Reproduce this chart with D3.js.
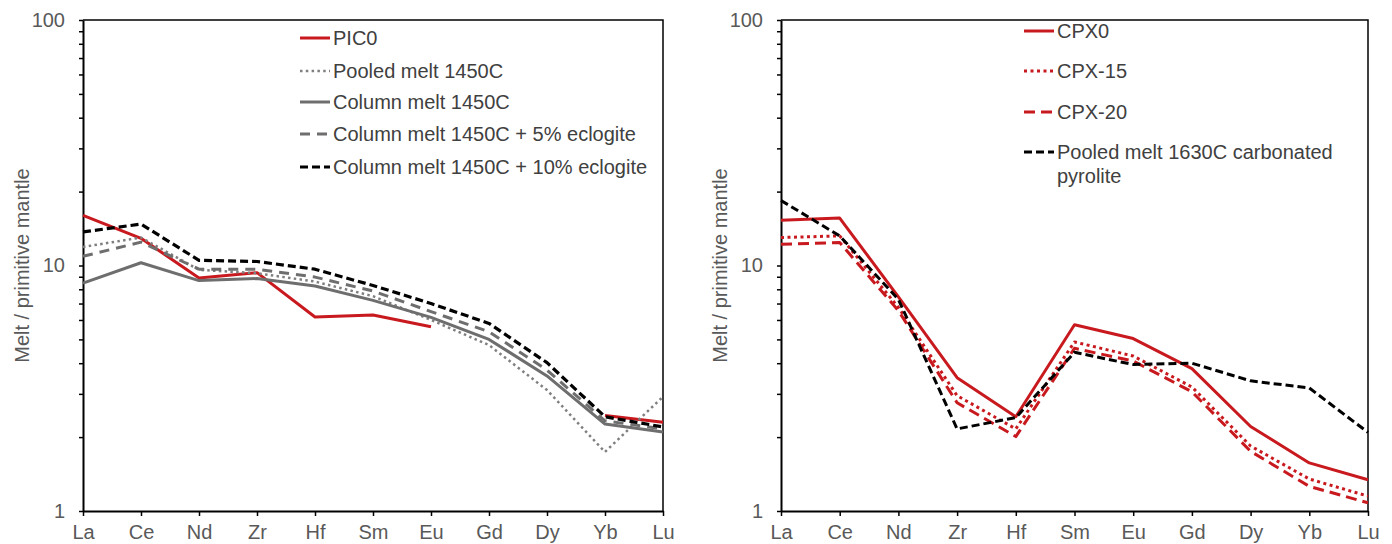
<!DOCTYPE html>
<html>
<head>
<meta charset="utf-8">
<script src="https://cdn.jsdelivr.net/npm/d3@7"></script>
<style>
  html, body { margin: 0; padding: 0; background: #fff; }
  svg { display: block; }
  text { font-family: "Liberation Sans", Arial, sans-serif; }
</style>
</head>
<body>
<svg id="chart" width="1392" height="544"></svg>
<script>
// Trace-element patterns normalised to primitive mantle
const elements = ["La", "Ce", "Nd", "Zr", "Hf", "Sm", "Eu", "Gd", "Dy", "Yb", "Lu"];
const yTickLabels = [1, 10, 100];
const yAxisTitle = "Melt / primitive mantle";

// Left panel series
const pic0        = [16.0, 12.9, 8.9, 9.35, 6.17, 6.29, 5.63, null, null, 2.45, 2.30];
const pooled1450  = [11.9, 13.0, 9.6, 9.3, 8.6, 7.5, 6.0, 4.74, 3.11, 1.74, 2.92];
const column1450  = [8.48, 10.26, 8.68, 8.85, 8.25, 7.21, 6.15, 5.0, 3.55, 2.26, 2.10];
const column5ecl  = [10.9, 12.45, 9.66, 9.66, 8.97, 7.87, 6.49, 5.37, 3.75, 2.33, 2.16];
const column10ecl = [13.7, 14.75, 10.5, 10.38, 9.66, 8.29, 7.0, 5.81, 4.02, 2.42, 2.20];

// Right panel series
const cpx0        = [15.3, 15.6, 7.45, 3.49, 2.42, 5.74, 5.04, 3.80, 2.21, 1.57, 1.34];
const cpx15       = [13.0, 13.2, 6.75, 2.95, 2.16, 4.88, 4.28, 3.20, 1.84, 1.35, 1.15];
const cpx20       = [12.2, 12.4, 6.55, 2.76, 2.01, 4.60, 4.08, 3.06, 1.75, 1.26, 1.08];
const pooled1630  = [18.4, 13.2, 7.28, 2.16, 2.40, 4.43, 3.95, 4.0, 3.39, 3.17, 2.09];

const RED = "#c8191e", GREY = "#6e6e6e", LIGHTGREY = "#7f7f7f", BLACK = "#000";

const leftSeries = [
  { name: "PIC0", values: pic0, color: RED, width: 3, dash: null },
  { name: "Pooled melt 1450C", values: pooled1450, color: LIGHTGREY, width: 2.5, dash: "2.5,3.3" },
  { name: "Column melt 1450C", values: column1450, color: GREY, width: 3, dash: null },
  { name: "Column melt 1450C + 5% eclogite", values: column5ecl, color: GREY, width: 3, dash: "10,7" },
  { name: "Column melt 1450C + 10% eclogite", values: column10ecl, color: BLACK, width: 3.2, dash: "8,4" }
];
const rightSeries = [
  { name: ["CPX0"], values: cpx0, color: RED, width: 3, dash: null },
  { name: ["CPX-15"], values: cpx15, color: RED, width: 3, dash: "3,3.5" },
  { name: ["CPX-20"], values: cpx20, color: RED, width: 3, dash: "11,6" },
  { name: ["Pooled melt 1630C carbonated", "pyrolite"], values: pooled1630, color: BLACK, width: 3, dash: "8,4" }
];

const svg = d3.select("#chart");

function panel(cfg) {
  const g = svg.append("g");
  const x = d3.scalePoint().domain(elements).range([cfg.x0, cfg.x1]);
  const y = d3.scaleLog().domain([1, 100]).range([cfg.y1, cfg.y0]);

  // frame (top and right)
  g.append("path")
    .attr("d", `M${cfg.x0},${cfg.y0}H${cfg.x1}V${cfg.y1}`)
    .attr("fill", "none").attr("stroke", "#000").attr("stroke-width", 1.5);

  // y axis: all decade sub-ticks, labels on decades only
  const minor = [];
  for (let d = 1; d < 100; d *= 10) for (let k = 1; k < 10; k++) minor.push(d * k);
  minor.push(100);
  const yAxis = d3.axisLeft(y).tickValues(minor)
    .tickFormat(v => yTickLabels.includes(v) ? String(v) : "")
    .tickSizeInner(4).tickSizeOuter(0).tickPadding(14);
  const ya = g.append("g").attr("transform", `translate(${cfg.x0},0)`).call(yAxis);
  ya.select(".domain").attr("stroke", "#000").attr("stroke-width", 2);
  ya.selectAll(".tick line").attr("stroke", "#000").attr("stroke-width", 1.5);
  ya.selectAll(".tick text").attr("font-size", 20).attr("fill", "#595959")
    .attr("font-family", "Liberation Sans, Arial, sans-serif");

  // x axis
  const xAxis = d3.axisBottom(x).tickSizeInner(5).tickSizeOuter(0).tickPadding(9);
  const xa = g.append("g").attr("transform", `translate(0,${cfg.y1})`).call(xAxis);
  xa.select(".domain").attr("stroke", "#000").attr("stroke-width", 2);
  xa.selectAll(".tick line").attr("stroke", "#000").attr("stroke-width", 1.5);
  xa.selectAll(".tick text").attr("font-size", 20).attr("fill", "#595959")
    .attr("font-family", "Liberation Sans, Arial, sans-serif");

  // axis title
  g.append("text")
    .attr("transform", `translate(${cfg.titleX},${(cfg.y0 + cfg.y1) / 2}) rotate(-90)`)
    .attr("text-anchor", "middle").attr("font-size", 20).attr("fill", "#595959")
    .text(yAxisTitle);

  // series lines
  const line = d3.line()
    .defined(d => d.v != null)
    .x(d => x(d.e)).y(d => y(d.v));
  cfg.series.forEach(s => {
    const pts = elements.map((e, i) => ({ e, v: s.values[i] }));
    g.append("path").datum(pts)
      .attr("d", line)
      .attr("fill", "none")
      .attr("stroke", s.color)
      .attr("stroke-width", s.width)
      .attr("stroke-dasharray", s.dash)
      .attr("stroke-linejoin", "round");
  });

  // legend
  const lg = g.append("g");
  cfg.series.forEach((s, i) => {
    const cy = cfg.legendRows[i];
    lg.append("line")
      .attr("x1", cfg.legendX).attr("x2", cfg.legendX + 30)
      .attr("y1", cy).attr("y2", cy)
      .attr("stroke", s.color).attr("stroke-width", s.width)
      .attr("stroke-dasharray", s.dash);
    const lines = Array.isArray(s.name) ? s.name : [s.name];
    const t = lg.append("text")
      .attr("x", cfg.legendX + 33).attr("y", cy)
      .attr("font-size", 20).attr("fill", "#404040");
    lines.forEach((txt, j) => {
      t.append("tspan")
        .attr("x", cfg.legendX + 33)
        .attr("dy", j === 0 ? "0.35em" : 24)
        .text(txt);
    });
  });
}

panel({
  x0: 83, x1: 663, y0: 20, y1: 511, titleX: 29,
  series: leftSeries,
  legendX: 300, legendRows: [38, 71, 102, 134, 167]
});

panel({
  x0: 781, x1: 1368, y0: 20, y1: 511, titleX: 727,
  series: rightSeries,
  legendX: 1024, legendRows: [31, 71, 112, 152]
});
</script>
</body>
</html>
